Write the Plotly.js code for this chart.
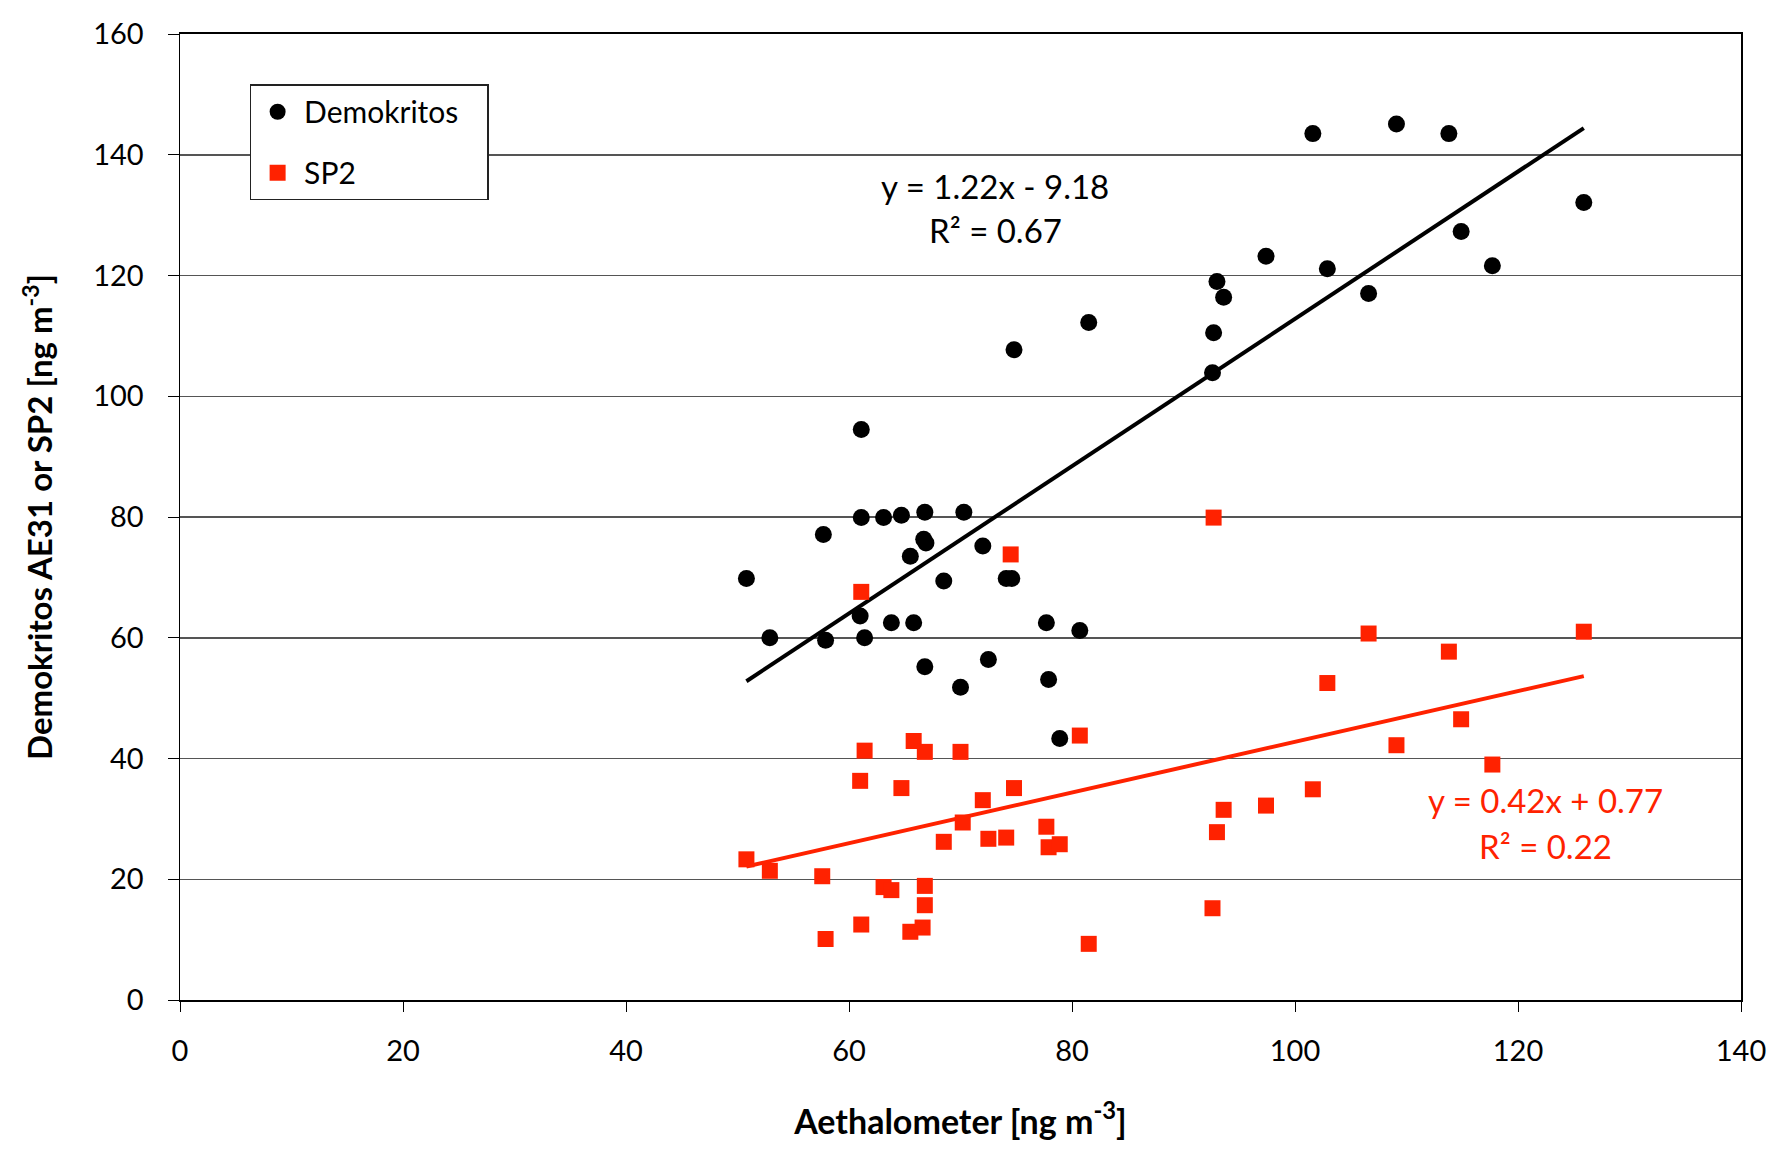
<!DOCTYPE html>
<html>
<head>
<meta charset="utf-8">
<script src="https://cdn.plot.ly/plotly-3.0.1.min.js"></script>
<style>html,body{margin:0;padding:0;background:#fff;}#chart{width:1787px;height:1153px;}</style>
</head>
<body>
<div id="chart"></div>
<script>
// ---- data ----
const demX = [50.8,52.9,57.7,57.9,61.1,61.1,61.0,61.4,63.1,63.8,64.7,65.5,65.8,66.7,66.9,66.8,66.8,68.5,70.0,70.3,72.0,72.5,74.1,74.6,74.8,77.7,77.9,78.9,80.7,81.5,92.6,92.7,93.0,93.6,97.4,101.6,102.9,106.6,109.1,113.8,114.9,117.7,125.9];
const demY = [69.8,60.0,77.1,59.6,94.5,79.9,63.6,60.0,79.9,62.5,80.3,73.5,62.5,76.3,75.7,80.8,55.2,69.4,51.8,80.8,75.2,56.4,69.8,69.8,107.7,62.5,53.1,43.3,61.2,112.2,103.9,110.5,119.0,116.4,123.2,143.5,121.1,117.0,145.1,143.5,127.3,121.6,132.1];
const sp2X = [50.8,52.9,57.6,57.9,61.1,61.0,61.4,61.1,63.1,63.8,64.7,65.5,65.8,66.6,66.8,66.8,66.8,68.5,70.0,70.2,72.0,72.5,74.1,74.5,74.8,77.7,77.9,78.9,80.7,81.5,92.6,92.7,93.0,93.6,97.4,101.6,102.9,106.6,109.1,113.8,114.9,117.7,125.9];
const sp2Y = [23.3,21.4,20.5,10.1,67.6,36.3,41.3,12.5,18.7,18.2,35.1,11.3,42.9,12.0,18.9,15.7,41.1,26.2,41.1,29.4,33.1,26.7,26.9,73.8,35.1,28.7,25.3,25.8,43.8,9.3,15.2,79.9,27.8,31.5,32.2,34.9,52.5,60.7,42.2,57.7,46.5,39.0,61.0];
// regression coefficients printed on the chart
const demFit = {slope: 1.22, intercept: -9.18, r2: 0.67};
const sp2Fit = {slope: 0.42, intercept: 0.77, r2: 0.22};
const xTicks = [0,20,40,60,80,100,120,140];
const yTicks = [0,20,40,60,80,100,120,140,160];
const seriesNames = ['Demokritos', 'SP2'];

function fitLine(xs, fit) {
  const lo = Math.min(...xs), hi = Math.max(...xs);
  return {x: [lo, hi], y: [fit.slope*lo + fit.intercept, fit.slope*hi + fit.intercept]};
}
const demLine = fitLine(demX, demFit);
const sp2Line = fitLine(sp2X, sp2Fit);

const FONT = 'Lato, "Open Sans", sans-serif';
const RED = '#ff2200';
const PAD = '\u00a0\u00a0\u00a0';

const traces = [
  {x: demLine.x, y: demLine.y, mode: 'lines', line: {color: '#000', width: 4}, showlegend: false, hoverinfo: 'skip'},
  {x: sp2Line.x, y: sp2Line.y, mode: 'lines', line: {color: RED, width: 4}, showlegend: false, hoverinfo: 'skip'},
  {x: demX, y: demY, mode: 'markers', name: seriesNames[0] + PAD, legendgroup: 'a', marker: {symbol: 'circle', size: 17, color: '#000'}},
  {x: sp2X, y: sp2Y, mode: 'markers', name: seriesNames[1], legendgroup: 'b', marker: {symbol: 'square', size: 16, color: RED}}
];

const sign = v => (v < 0 ? '- ' : '+ ') + Math.abs(v).toFixed(2);

const layout = {
  width: 1787, height: 1153,
  margin: {l: 180, r: 46, t: 34, b: 153},
  paper_bgcolor: '#fff', plot_bgcolor: '#fff',
  font: {family: FONT, size: 29, color: '#000'},
  showlegend: true,
  legend: {
    x: 0.0446, y: 0.948, xanchor: 'left', yanchor: 'top',
    bgcolor: '#fff', bordercolor: '#222', borderwidth: 1.5,
    font: {family: FONT, size: 30, color: '#000'},
    itemsizing: 'trace', tracegroupgap: 19, itemwidth: 43
  },
  xaxis: {
    range: [0, 140], tickvals: xTicks, ticktext: xTicks.map(String),
    showgrid: false, zeroline: false,
    showline: true, linecolor: '#000', linewidth: 2, mirror: true,
    ticks: 'outside', ticklen: 10, tickwidth: 1, tickcolor: '#000',
    tickfont: {family: FONT, size: 29, color: '#000'},
    ticklabelstandoff: 14,
    title: {text: 'Aethalometer [ng m<sup>-3</sup>]', font: {family: FONT, size: 34, color: '#000', weight: 'bold'}, standoff: 44}
  },
  yaxis: {
    range: [0, 160], tickvals: yTicks, ticktext: yTicks.map(String),
    showgrid: true, gridcolor: '#555', gridwidth: 1.5, zeroline: false,
    showline: true, linecolor: '#000', linewidth: 1.5, mirror: true,
    ticks: 'outside', ticklen: 11, tickwidth: 1, tickcolor: '#000',
    tickfont: {family: FONT, size: 29, color: '#000'},
    ticklabelstandoff: 18,
    title: {text: 'Demokritos AE31 or SP2 [ng m<sup>-3</sup>]', font: {family: FONT, size: 33, color: '#000', weight: 'bold'}, standoff: 30}
  },
  annotations: [
    {x: 73.1, y: 134.9, xref: 'x', yref: 'y', showarrow: false, text: 'y = ' + demFit.slope.toFixed(2) + 'x ' + sign(demFit.intercept), font: {family: FONT, size: 33, color: '#000'}},
    {x: 73.1, y: 127.5, xref: 'x', yref: 'y', showarrow: false, text: 'R² = ' + demFit.r2.toFixed(2), font: {family: FONT, size: 33, color: '#000'}},
    {x: 122.5, y: 33.1, xref: 'x', yref: 'y', showarrow: false, text: 'y = ' + sp2Fit.slope.toFixed(2) + 'x ' + sign(sp2Fit.intercept), font: {family: FONT, size: 33, color: RED}},
    {x: 122.5, y: 25.5, xref: 'x', yref: 'y', showarrow: false, text: 'R² = ' + sp2Fit.r2.toFixed(2), font: {family: FONT, size: 33, color: RED}}
  ]
};

Plotly.newPlot('chart', traces, layout, {displayModeBar: false, staticPlot: true});
</script>
</body>
</html>
